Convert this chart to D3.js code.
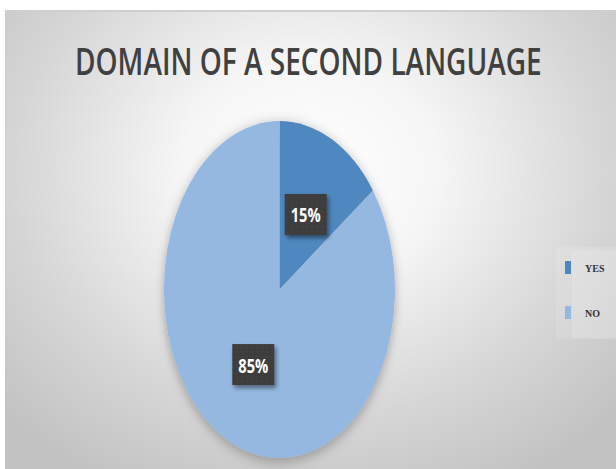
<!DOCTYPE html>
<html>
<head>
<meta charset="utf-8">
<script src="https://cdn.jsdelivr.net/npm/d3@7"></script>
<style>
html,body{margin:0;padding:0;background:#fff;}
svg{display:block;}
</style>
</head>
<body>
<script>
const title = "DOMAIN OF A SECOND LANGUAGE";
const categories = ["YES", "NO"];
const values = [15, 85];
const labels = ["15%", "85%"];
const colors = ["#4f88be", "#95b8e0"];

const W = 616, H = 469;
const svg = d3.select("body").append("svg").attr("width", W).attr("height", H);
const defs = svg.append("defs");

const grad = defs.append("radialGradient").attr("id", "bg")
  .attr("gradientUnits", "userSpaceOnUse")
  .attr("cx", 310).attr("cy", 170).attr("r", 420)
  .attr("gradientTransform", "translate(310,170) scale(1,0.85) translate(-310,-170)");
grad.append("stop").attr("offset", 0).attr("stop-color", "#ffffff");
grad.append("stop").attr("offset", 0.3).attr("stop-color", "#f6f6f6");
grad.append("stop").attr("offset", 0.7).attr("stop-color", "#d6d6d6");
grad.append("stop").attr("offset", 1).attr("stop-color", "#c2c2c2");

const sh = defs.append("filter").attr("id", "pieShadow")
  .attr("x", "-30%").attr("y", "-30%").attr("width", "160%").attr("height", "160%");
sh.append("feDropShadow").attr("dx", 0).attr("dy", 3).attr("stdDeviation", 7)
  .attr("flood-color", "#000").attr("flood-opacity", 0.3);

const bs = defs.append("filter").attr("id", "boxShadow")
  .attr("x", "-30%").attr("y", "-30%").attr("width", "170%").attr("height", "170%");
bs.append("feDropShadow").attr("dx", 2).attr("dy", 3).attr("stdDeviation", 2)
  .attr("flood-color", "#000").attr("flood-opacity", 0.45);

const pat = defs.append("pattern").attr("id", "dots")
  .attr("width", 5).attr("height", 5).attr("patternUnits", "userSpaceOnUse");
pat.append("rect").attr("width", 5).attr("height", 5).attr("fill", "#3c3c3c");
pat.append("rect").attr("x", 2).attr("y", 2).attr("width", 1).attr("height", 1).attr("fill", "#525252");

// background
svg.append("rect").attr("x", 5).attr("y", 11).attr("width", W - 5).attr("height", H - 11)
  .attr("fill", "url(#bg)");
svg.append("rect").attr("x", 5).attr("y", 10).attr("width", W - 5).attr("height", 2)
  .attr("fill", "#cfcfcf");

// helper: draw text squeezed horizontally to a target width
function fitText(parent, str, x, y, width, attrs) {
  const t = parent.append("text").attr("x", 0).attr("y", 0).text(str);
  Object.entries(attrs).forEach(([k, v]) => t.attr(k, v));
  const w = t.node().getComputedTextLength();
  t.attr("transform", `translate(${x},${y}) scale(${width / w},1)`);
  return t;
}

// title
fitText(svg, title, 75, 75, 467, {
  "font-family": "'Open Sans', sans-serif", "font-weight": 600,
  "font-size": 38.5, "fill": "#404040"
});

// pie (elliptical)
const cx = 279.5, cy = 289.5, rx = 115.5, ry = 168.5;
const pie = d3.pie().sort(null).value(d => d)(values);
const arc = d3.arc().innerRadius(0).outerRadius(ry);
const g = svg.append("g").attr("transform", `translate(${cx},${cy}) scale(${rx / ry},1)`);
g.append("g").attr("filter", "url(#pieShadow)")
  .selectAll("path").data(pie).join("path")
  .attr("d", arc).attr("fill", (d, i) => colors[i]);

// labels
const lg = svg.append("g").attr("transform", `translate(${cx},${cy})`);
pie.forEach((d, i) => {
  const c = arc.centroid(d);
  const x = c[0] * rx / ry, y = c[1];
  const bw = 42, bh = 41;
  lg.append("rect").attr("x", x - bw / 2).attr("y", y - bh / 2)
    .attr("width", bw).attr("height", bh).attr("fill", "url(#dots)")
    .attr("filter", "url(#boxShadow)");
  fitText(lg, labels[i], x - 15, y + 8, 30, {
    "font-family": "'Open Sans', sans-serif", "font-weight": 700,
    "font-size": 19, "fill": "#ffffff"
  });
});

// legend
svg.append("rect").attr("x", 556).attr("y", 247).attr("width", 60).attr("height", 92)
  .attr("fill", "#ffffff").attr("opacity", 0.12);
svg.append("rect").attr("x", 572).attr("y", 250).attr("width", 44).attr("height", 88)
  .attr("fill", "#ffffff").attr("opacity", 0.15);
const ly = d3.scalePoint().domain(categories).range([267.5, 312.5]);
categories.forEach((c, i) => {
  svg.append("rect").attr("x", 565).attr("y", ly(c) - 6.5).attr("width", 6).attr("height", 13)
    .attr("fill", colors[i]);
  svg.append("text").attr("x", 585).attr("y", ly(c) + 4)
    .attr("font-family", "'Liberation Serif', serif").attr("font-weight", 700)
    .attr("font-size", 10).attr("fill", "#333")
    .text(c);
});
</script>
</body>
</html>
